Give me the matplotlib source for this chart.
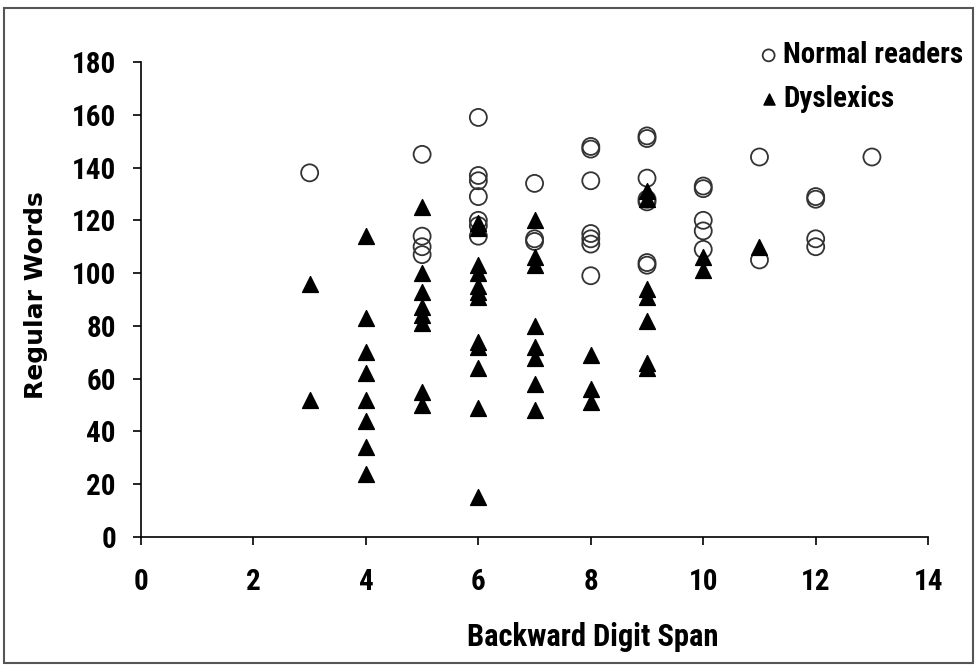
import matplotlib
matplotlib.use('Agg')
import matplotlib.pyplot as plt
from matplotlib.patches import Rectangle

# Normal readers (open circles): x = backward digit span, y = regular words
normal_x = [3, 5, 5, 5, 5, 6, 6, 6, 6, 6, 6, 6, 7, 7, 7,
            8, 8, 8, 8, 8, 8, 8, 9, 9, 9, 9, 9, 9, 9,
            10, 10, 10, 10, 10, 11, 11, 12, 12, 12, 12, 13]
normal_y = [138, 145, 114, 110, 107, 159, 137, 135, 129, 120, 118, 114, 134, 113, 112,
            148, 147, 135, 115, 113, 111, 99, 152, 151, 136, 128, 127, 104, 103,
            133, 132, 120, 116, 109, 144, 105, 129, 128, 113, 110, 144]

# Dyslexics (filled triangles)
dys_x = [3, 3, 4, 4, 4, 4, 4, 4, 4, 4,
         5, 5, 5, 5, 5, 5, 5, 5,
         6, 6, 6, 6, 6, 6, 6, 6, 6, 6, 6, 6,
         7, 7, 7, 7, 7, 7, 7, 7,
         8, 8, 8, 9, 9, 9, 9, 9, 9, 9, 10, 10, 11]
dys_y = [96, 52, 114, 83, 70, 62, 52, 44, 34, 24,
         125, 100, 93, 87, 84, 81, 55, 50,
         119, 117, 103, 100, 95, 93, 91, 74, 72, 64, 49, 15,
         120, 106, 103, 80, 72, 68, 58, 48,
         69, 56, 51, 131, 128, 94, 91, 82, 66, 64, 106, 101, 110]

x_ticks = [0, 2, 4, 6, 8, 10, 12, 14]
y_ticks = [0, 20, 40, 60, 80, 100, 120, 140, 160, 180]

narrow = ['Roboto Condensed', 'DejaVu Sans']

fig = plt.figure(figsize=(9.77, 6.66), dpi=100)
ax = fig.add_axes([0.1443, 0.1937, 0.8057, 0.7132])

ax.scatter(normal_x, normal_y, s=150, marker='o', facecolors='none',
           edgecolors='#333333', linewidths=1.3, label='Normal readers', zorder=2)
ax.scatter(dys_x, dys_y, s=130, marker='^', color='black', label='Dyslexics', zorder=3)

ax.set_xlim(0, 14)
ax.set_ylim(0, 180)
ax.set_xticks(x_ticks)
ax.set_yticks(y_ticks)
ax.spines['top'].set_visible(False)
ax.spines['right'].set_visible(False)
ax.spines['left'].set_linewidth(1.2)
ax.spines['bottom'].set_linewidth(1.2)
ax.tick_params(direction='out', length=6, width=1.2)
ax.tick_params(axis='x', pad=16)
ax.tick_params(axis='y', pad=12)

for lab in ax.get_xticklabels() + ax.get_yticklabels():
    lab.set_family(narrow)
    lab.set_fontweight('bold')
    lab.set_fontsize(21)

ax.set_xlabel('Backward Digit Span', family=narrow, fontweight='bold', fontsize=22)
ax.xaxis.set_label_coords(0.574, -0.178)
ax.set_ylabel('Regular Words', family=['DejaVu Sans'], fontweight='bold', fontsize=18)
ax.yaxis.set_label_coords(-0.118, 0.51)

leg = ax.legend(loc='upper left', bbox_to_anchor=(0.7748, 0.9384),
                bbox_transform=fig.transFigure, frameon=False,
                prop={'family': narrow, 'weight': 'bold', 'size': 21},
                handlelength=0.8, handletextpad=0.1, labelspacing=0.55,
                markerscale=0.7, borderpad=0, borderaxespad=0)

fig.patches.append(Rectangle((0.004, 0.004), 0.992, 0.984, transform=fig.transFigure,
                             fill=False, edgecolor='#555555', linewidth=1.5))

plt.savefig('out.png', dpi=100)
